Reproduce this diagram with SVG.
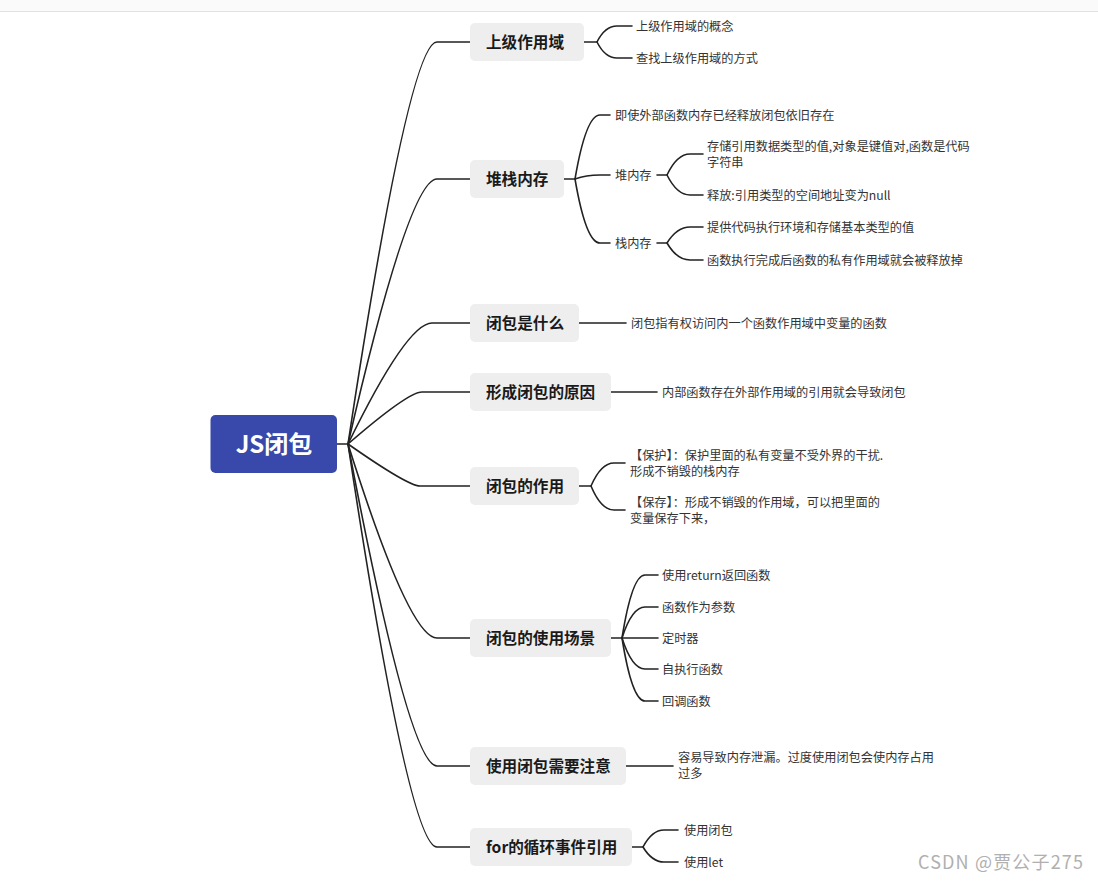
<svg xmlns="http://www.w3.org/2000/svg" width="1098" height="883" viewBox="0 0 1098 883">
<style>
.conn{fill:none;stroke:#222;stroke-width:1.6;stroke-linecap:round}
.main rect{fill:#eeeeee}
.main text{font-family:"Noto Sans CJK SC","Liberation Sans",sans-serif;font-size:15.6px;font-weight:bold;fill:#1a1a1a}
.sub{font-family:"Noto Sans CJK SC","Liberation Sans",sans-serif;font-size:12.2px;fill:#333}
</style>
<rect x="0" y="0" width="1098" height="883" fill="#ffffff"/>
<rect x="0" y="0" width="1098" height="11" fill="#fafafa"/>
<line x1="0" y1="11.5" x2="1098" y2="11.5" stroke="#e2e2e2" stroke-width="1"/>
<g id="connectors">
<path class="conn" d="M337,444 L348,444 Q409,42 437,42 L470,42"/>
<path class="conn" d="M348,444 Q409,179 437,179 L470,179"/>
<path class="conn" d="M348,444 Q407,323 432,323 L470,323"/>
<path class="conn" d="M348,444 Q408,392 422,392 L470,392"/>
<path class="conn" d="M348,444 Q408,486 420,486 L470,486"/>
<path class="conn" d="M348,444 Q409,638 437,638 L470,638"/>
<path class="conn" d="M348,444 Q409,766 437,766 L470,766"/>
<path class="conn" d="M348,444 Q409,847 437,847 L470,847"/>
<path class="conn" d="M584,42 L597,42 Q605,26 617,26 L632,26"/>
<path class="conn" d="M597,42 Q605,58 617,58 L632,58"/>
<path class="conn" d="M564,179 L575,179 Q586,115 600,115 L610,115"/>
<path class="conn" d="M575,179 Q586,175 600,175 L610,175"/>
<path class="conn" d="M575,179 Q586,243 600,243 L610,243"/>
<path class="conn" d="M657,175 L667,175 Q677,154 690,154 L703,154"/>
<path class="conn" d="M667,175 Q677,195 690,195 L703,195"/>
<path class="conn" d="M657,243 L667,243 Q677,227 690,227 L703,227"/>
<path class="conn" d="M667,243 Q677,260 690,260 L703,260"/>
<path class="conn" d="M579,323 L626,323"/>
<path class="conn" d="M611,392 L657,392"/>
<path class="conn" d="M579,486 L591,486 Q601,463 614,463 L625,463"/>
<path class="conn" d="M591,486 Q601,510 614,510 L625,510"/>
<path class="conn" d="M611,638 L622,638 Q632,575 645,575 L658,575"/>
<path class="conn" d="M622,638 Q632,607 645,607 L658,607"/>
<path class="conn" d="M622,638 L658,638"/>
<path class="conn" d="M622,638 Q632,669 645,669 L658,669"/>
<path class="conn" d="M622,638 Q632,701 645,701 L658,701"/>
<path class="conn" d="M626,766 L673,766"/>
<path class="conn" d="M632,847 L643,847 Q652,830 664,830 L678,830"/>
<path class="conn" d="M643,847 Q652,862 664,862 L678,862"/>
</g>
<g id="root">
<rect x="210.5" y="415" width="126.5" height="58" rx="5" fill="#3949ab"/>
<text x="274" y="453" text-anchor="middle" font-family="Noto Sans CJK SC,Liberation Sans,sans-serif" font-size="24" font-weight="bold" fill="#ffffff">JS闭包</text>
</g>
<g id="n1" class="main"><rect x="470" y="23" width="114" height="38" rx="5"/><text x="486" y="47.5">上级作用域</text></g>
<g id="n2" class="main"><rect x="470" y="160" width="94" height="38" rx="5"/><text x="486" y="184.5">堆栈内存</text></g>
<g id="n3" class="main"><rect x="470" y="304" width="109" height="38" rx="5"/><text x="486" y="328.5">闭包是什么</text></g>
<g id="n4" class="main"><rect x="470" y="373" width="141" height="38" rx="5"/><text x="486" y="397.5">形成闭包的原因</text></g>
<g id="n5" class="main"><rect x="470" y="467" width="109" height="38" rx="5"/><text x="486" y="491.5">闭包的作用</text></g>
<g id="n6" class="main"><rect x="470" y="619" width="141" height="38" rx="5"/><text x="486" y="643.5">闭包的使用场景</text></g>
<g id="n7" class="main"><rect x="470" y="747" width="156" height="38" rx="5"/><text x="486" y="771.5">使用闭包需要注意</text></g>
<g id="n8" class="main"><rect x="470" y="828" width="162" height="38" rx="5"/><text x="486" y="852.5">for的循环事件引用</text></g>
<g id="n1c1"><text class="sub" x="636" y="30.5">上级作用域的概念</text></g>
<g id="n1c2"><text class="sub" x="636" y="62.5">查找上级作用域的方式</text></g>
<g id="n2c1"><text class="sub" x="615" y="119.5">即使外部函数内存已经释放闭包依旧存在</text></g>
<g id="n2c2"><text class="sub" x="615" y="179.5">堆内存</text></g>
<g id="n2c2a"><text class="sub" x="707" y="151">存储引用数据类型的值,对象是键值对,函数是代码</text><text class="sub" x="707" y="167">字符串</text></g>
<g id="n2c2b"><text class="sub" x="707" y="199.5">释放:引用类型的空间地址变为null</text></g>
<g id="n2c3"><text class="sub" x="615" y="247.5">栈内存</text></g>
<g id="n2c3a"><text class="sub" x="707" y="231.5">提供代码执行环境和存储基本类型的值</text></g>
<g id="n2c3b"><text class="sub" x="707" y="264.5">函数执行完成后函数的私有作用域就会被释放掉</text></g>
<g id="n3c1"><text class="sub" x="631" y="327.5">闭包指有权访问内一个函数作用域中变量的函数</text></g>
<g id="n4c1"><text class="sub" x="662" y="396.5">内部函数存在外部作用域的引用就会导致闭包</text></g>
<g id="n5c1"><text class="sub" x="630" y="459.5">【保护】：保护里面的私有变量不受外界的干扰.</text><text class="sub" x="630" y="476">形成不销毁的栈内存</text></g>
<g id="n5c2"><text class="sub" x="630" y="506.5">【保存】：形成不销毁的作用域，可以把里面的</text><text class="sub" x="630" y="523">变量保存下来，</text></g>
<g id="n6c1"><text class="sub" x="662" y="579.5">使用return返回函数</text></g>
<g id="n6c2"><text class="sub" x="662" y="611.5">函数作为参数</text></g>
<g id="n6c3"><text class="sub" x="662" y="642.5">定时器</text></g>
<g id="n6c4"><text class="sub" x="662" y="673.5">自执行函数</text></g>
<g id="n6c5"><text class="sub" x="662" y="705.5">回调函数</text></g>
<g id="n7c1"><text class="sub" x="678" y="762">容易导致内存泄漏。过度使用闭包会使内存占用</text><text class="sub" x="678" y="778">过多</text></g>
<g id="n8c1"><text class="sub" x="684" y="834.5">使用闭包</text></g>
<g id="n8c2"><text class="sub" x="684" y="866.5">使用let</text></g>
<text x="918" y="869" font-family="Noto Sans CJK SC,Liberation Sans,sans-serif" font-size="18" fill="#b0b0b0" textLength="165" lengthAdjust="spacing">CSDN @贾公子275</text>
</svg>
